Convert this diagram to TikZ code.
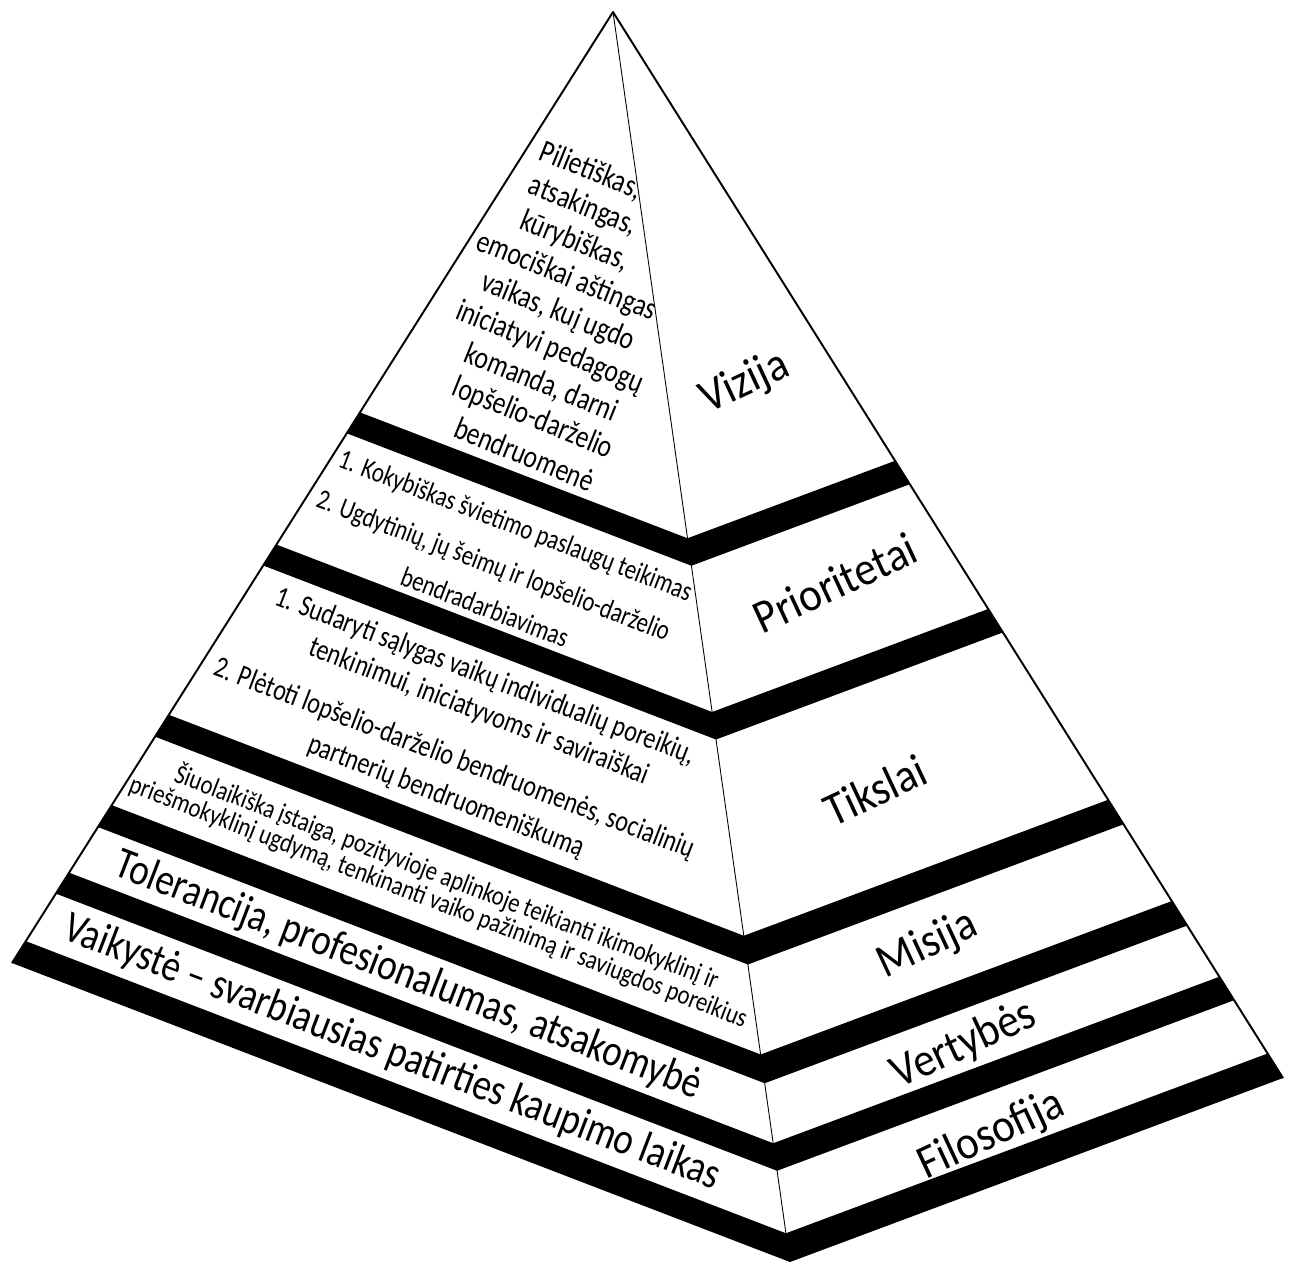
\documentclass[tikz,border=0pt]{standalone}
\usepackage{fontspec}
\setmainfont{Carlito}
\usetikzlibrary{calc}

\tikzset{
  lbl/.style={rotate=25,yscale=1.1,inner sep=0pt,font=\fontsize{24.5}{28}\selectfont},
  bigtxt/.style={rotate=-21,yscale=1.2,inner sep=0pt,font=\fontsize{21}{25}\selectfont},
  viztxt/.style={rotate=-22,yscale=1.25,inner sep=0pt,font=\fontsize{14.5}{17}\selectfont},
  priotxt/.style={rotate=-21,yscale=1.25,inner sep=0pt,font=\fontsize{12.9}{15}\selectfont},
  tiktxt/.style={rotate=-21,yscale=1.25,inner sep=0pt,font=\fontsize{13.7}{16}\selectfont},
  mistxt/.style={rotate=-21,yscale=1.2,inner sep=0pt,font=\fontsize{12.9}{15}\selectfont},
}

\begin{document}
\begin{tikzpicture}[x=0.02cm,y=-0.02cm,line join=round]
\useasboundingbox (0,0) rectangle (1297,1264);
\path
(613,12) coordinate (A)
(12,963) coordinate (L)
(790,1262) coordinate (B)
(1283,1078) coordinate (R)
;
% black bands
\foreach \ta/\tb in {0.421/0.443,0.560/0.582,0.739/0.762,0.834/0.857,0.905/0.927,0.977/1}
  \fill ($(A)!\ta!(L)$) -- ($(A)!\ta!(B)$) -- ($(A)!\ta!(R)$) -- ($(A)!\tb!(R)$) -- ($(A)!\tb!(B)$) -- ($(A)!\tb!(L)$) -- cycle;
% edges
\draw[line width=1.1pt] (L) -- (A) -- (R);
\draw[line width=0.5pt] (A) -- (B);
% labels on the right face
\node[lbl] (vizija) at (745,383) {Vizija};
\node[lbl] (prior) at (835,583) {Prioritetai};
\node[lbl] (tikslai) at (875,790) {Tikslai};
\node[lbl] (misija) at (928,945) {Misija};
\node[lbl] (vertybes) at (964,1045) {Vertybės};
\node[lbl] (filosofija) at (992,1135) {Filosofija};
% texts on the left face
\foreach \ln [count=\i, evaluate=\i as \xx using 591-8.3*(\i-1), evaluate=\i as \yy using 171+35.4*(\i-1)] in
  {{Pilietiškas,},{atsakingas,},{kūrybiškas,},emociškai aštingas,{vaikas, kuį ugdo},iniciatyvi pedagogų,{komanda, darni},lopšelio-darželio,bendruomenė}
  \node[viztxt] (viz\i) at (\xx,\yy) {\ln};
\node[priotxt] (prio1) at (515,527) {1. Kokybiškas švietimo paslaugų teikimas};
\node[priotxt] (prio2) at (493,567) {2. Ugdytinių, jų šeimų ir lopšelio-darželio};
\node[priotxt] (prio3) at (485,607) {bendradarbiavimas};
\node[tiktxt] (tiks1) at (485,677) {1. Sudaryti sąlygas vaikų individualių poreikių,};
\node[tiktxt] (tiks2) at (479,712) {tenkinimui, iniciatyvoms ir saviraiškai};
\node[tiktxt] (tiks3) at (454,759) {2. Plėtoti lopšelio-darželio bendruomenės, socialinių};
\node[tiktxt] (tiks4) at (446,797) {partnerių bendruomeniškumą};
\node[mistxt] (mis1) at (447,877) {Šiuolaikiška įstaiga, pozityvioje aplinkoje teikianti ikimokyklinį ir};
\node[mistxt] (mis2) at (438,903) {priešmokyklinį ugdymą, tenkinanti vaiko pažinimą ir saviugdos poreikius};
\node[bigtxt] (vert) at (408,976) {Tolerancija, profesionalumas, atsakomybė};
\node[bigtxt] (filo) at (392,1053) {Vaikystė – svarbiausias patirties kaupimo laikas};
\end{tikzpicture}
\end{document}
